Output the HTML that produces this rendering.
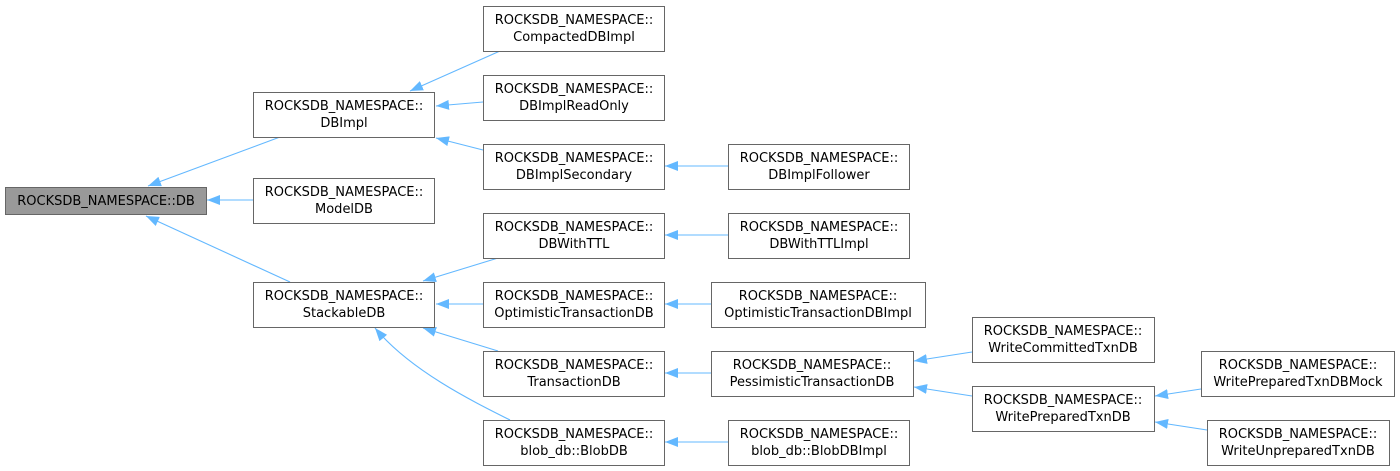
<!DOCTYPE html>
<html><head><meta charset="utf-8"><style>
html,body{margin:0;padding:0;background:#fff;}
svg{display:block;}
text{font-family:"DejaVu Sans","Liberation Sans",sans-serif;font-size:13px;fill:#000;}
</style></head><body>
<svg width="1400" height="471" viewBox="0 0 1400 471" xmlns="http://www.w3.org/2000/svg">
<defs>
<marker id="a" markerWidth="14" markerHeight="10" refX="13" refY="5" orient="auto" markerUnits="userSpaceOnUse">
<path d="M0,0 L13,5 L0,10 Z" fill="#63b8ff"/>
</marker>
</defs>
<g stroke="#63b8ff" stroke-width="1.1" fill="none" marker-end="url(#a)">
<path d="M280,137 L148,186"/>
<path d="M253,200 L207,200"/>
<path d="M290,282 L146,216"/>
<path d="M500,51 L410,91"/>
<path d="M483,102 L436,106"/>
<path d="M483,150 L436,138"/>
<path d="M728,166 L665,166"/>
<path d="M498,258 L423,281"/>
<path d="M728,235 L665,235"/>
<path d="M483,304 L436,304"/>
<path d="M711,304 L665,304"/>
<path d="M498,351 L423,328"/>
<path d="M510,420 C470,400 410,370 375,328"/>
<path d="M711,373 L665,373"/>
<path d="M728,442 L665,442"/>
<path d="M972,352 L914,361"/>
<path d="M972,396 L914,387"/>
<path d="M1201,389 L1155,396"/>
<path d="M1207,430 L1155,422"/>
</g>
<g stroke="#666" stroke-width="1" fill="#fff">
<rect x="5.5" y="187.5" width="201" height="27" fill="#999"/>
<rect x="253.5" y="92.5" width="181" height="45"/>
<rect x="253.5" y="178.5" width="181" height="45"/>
<rect x="253.5" y="282.5" width="181" height="45"/>
<rect x="483.5" y="6.5" width="181" height="45"/>
<rect x="483.5" y="75.5" width="181" height="45"/>
<rect x="483.5" y="144.5" width="181" height="45"/>
<rect x="728.5" y="144.5" width="181" height="45"/>
<rect x="483.5" y="213.5" width="181" height="45"/>
<rect x="728.5" y="213.5" width="181" height="45"/>
<rect x="483.5" y="282.5" width="181" height="45"/>
<rect x="711.5" y="282.5" width="214" height="45"/>
<rect x="483.5" y="351.5" width="181" height="45"/>
<rect x="711.5" y="351.5" width="202" height="45"/>
<rect x="483.5" y="420.5" width="181" height="45"/>
<rect x="728.5" y="420.5" width="181" height="45"/>
<rect x="972.5" y="317.5" width="182" height="45"/>
<rect x="972.5" y="386.5" width="182" height="45"/>
<rect x="1201.5" y="351.5" width="193" height="45"/>
<rect x="1207.5" y="420.5" width="182" height="45"/>
</g>
<g text-anchor="middle">
<text x="106" y="205">ROCKSDB_NAMESPACE::DB</text>
<text x="344" y="110">ROCKSDB_NAMESPACE::</text><text x="344" y="127">DBImpl</text>
<text x="344" y="196">ROCKSDB_NAMESPACE::</text><text x="344" y="213">ModelDB</text>
<text x="344" y="300">ROCKSDB_NAMESPACE::</text><text x="344" y="317">StackableDB</text>
<text x="574" y="24">ROCKSDB_NAMESPACE::</text><text x="574" y="41">CompactedDBImpl</text>
<text x="574" y="93">ROCKSDB_NAMESPACE::</text><text x="574" y="110">DBImplReadOnly</text>
<text x="574" y="162">ROCKSDB_NAMESPACE::</text><text x="574" y="179">DBImplSecondary</text>
<text x="819" y="162">ROCKSDB_NAMESPACE::</text><text x="819" y="179">DBImplFollower</text>
<text x="574" y="231">ROCKSDB_NAMESPACE::</text><text x="574" y="248">DBWithTTL</text>
<text x="819" y="231">ROCKSDB_NAMESPACE::</text><text x="819" y="248">DBWithTTLImpl</text>
<text x="574" y="300">ROCKSDB_NAMESPACE::</text><text x="574" y="317">OptimisticTransactionDB</text>
<text x="818" y="300">ROCKSDB_NAMESPACE::</text><text x="818" y="317">OptimisticTransactionDBImpl</text>
<text x="574" y="369">ROCKSDB_NAMESPACE::</text><text x="574" y="386">TransactionDB</text>
<text x="812" y="369">ROCKSDB_NAMESPACE::</text><text x="812" y="386">PessimisticTransactionDB</text>
<text x="574" y="438">ROCKSDB_NAMESPACE::</text><text x="574" y="455">blob_db::BlobDB</text>
<text x="819" y="438">ROCKSDB_NAMESPACE::</text><text x="819" y="455">blob_db::BlobDBImpl</text>
<text x="1063" y="335">ROCKSDB_NAMESPACE::</text><text x="1063" y="352">WriteCommittedTxnDB</text>
<text x="1063" y="404">ROCKSDB_NAMESPACE::</text><text x="1063" y="421">WritePreparedTxnDB</text>
<text x="1298" y="369">ROCKSDB_NAMESPACE::</text><text x="1298" y="386">WritePreparedTxnDBMock</text>
<text x="1298" y="438">ROCKSDB_NAMESPACE::</text><text x="1298" y="455">WriteUnpreparedTxnDB</text>
</g>
</svg>
</body></html>
